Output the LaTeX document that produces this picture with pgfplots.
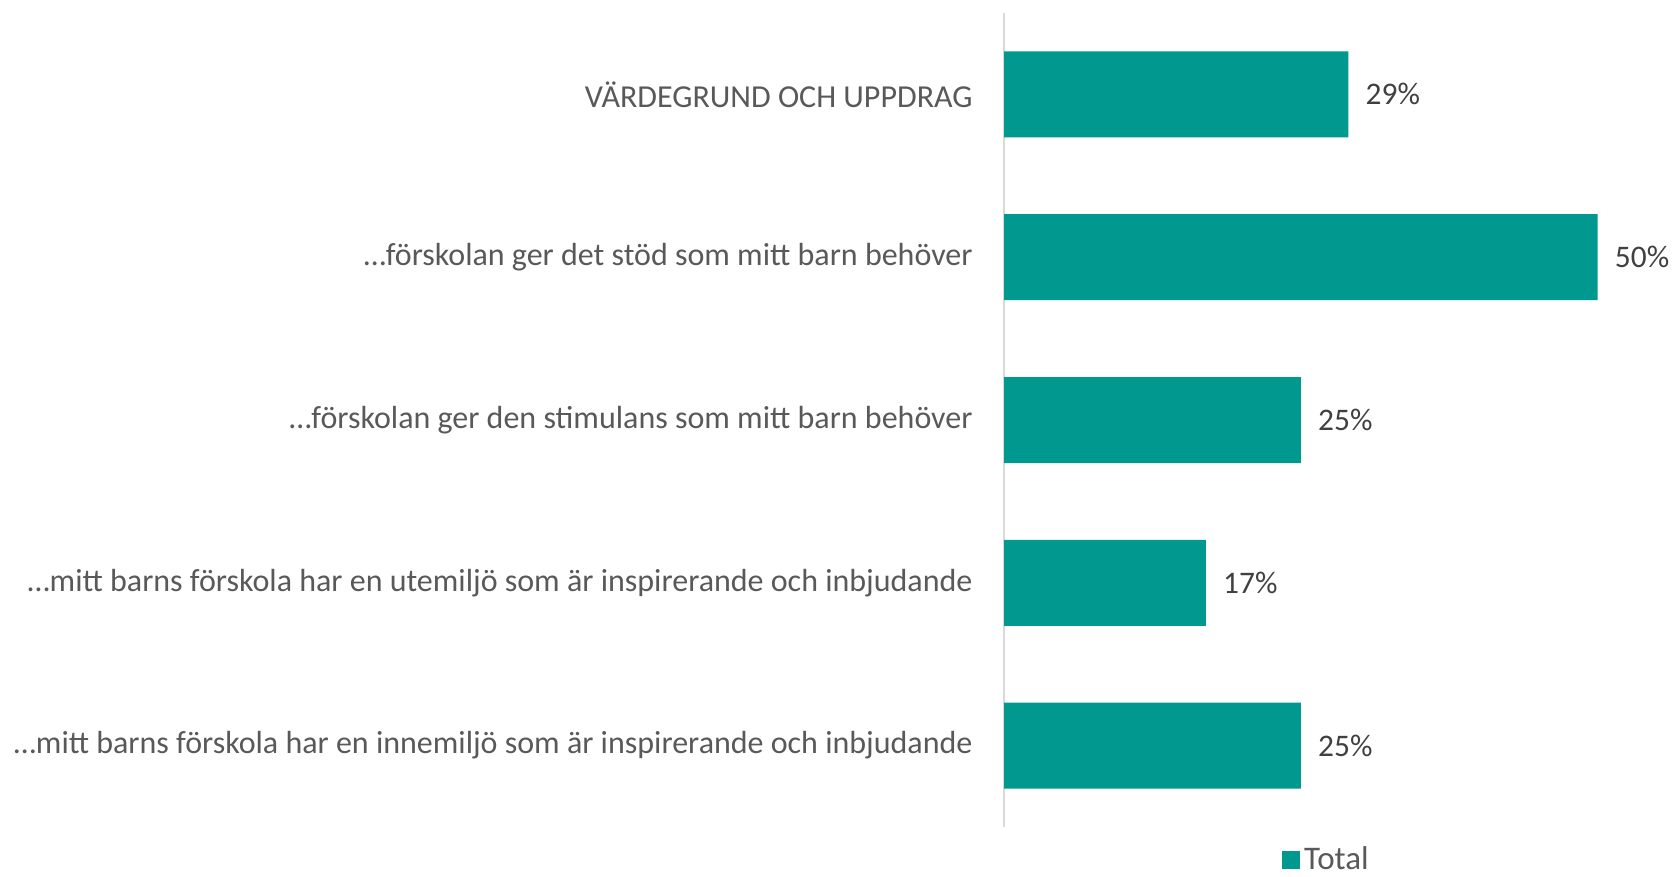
\documentclass[border=0pt]{standalone}
\usepackage{pgfplots}
\pgfplotsset{compat=1.18}
\usepackage{fontspec}
\setmainfont{Carlito}
\definecolor{barc}{RGB}{0,152,143}
\definecolor{lab}{RGB}{89,89,89}
\definecolor{dlab}{RGB}{64,64,64}
\definecolor{axc}{RGB}{217,217,217}
\begin{document}
\begin{tikzpicture}
\useasboundingbox (0,0) rectangle (837.5pt,438.5pt);
\begin{axis}[
 at={(502pt,25pt)}, anchor=south west,
 scale only axis, width=314.6pt, height=407pt,
 xbar, bar width=43pt,
 xmin=0, xmax=53, ymin=-0.5, ymax=4.5, y dir=reverse,
 axis x line=none, axis y line*=left,
 axis line style={draw=axc, line width=1pt, -},
 ytick={0,1,2,3,4},
 yticklabels={VÄRDEGRUND OCH UPPDRAG,
  …förskolan ger det stöd som mitt barn behöver,
  …förskolan ger den stimulans som mitt barn behöver,
  …mitt barns förskola har en utemiljö som är inspirerande och inbjudande,
  …mitt barns förskola har en innemiljö som är inspirerande och inbjudande},
 major tick length=0pt,
 yticklabel style={font=\fontsize{16}{19}\selectfont, text=lab, anchor=east, inner sep=0pt, xshift=-15.5pt},
 nodes near coords={\pgfmathprintnumber{\pgfplotspointmeta}\%},
 nodes near coords style={font=\fontsize{15.7}{18}\selectfont, text=dlab, anchor=west, inner sep=0pt, xshift=8.5pt},
 /pgf/number format/assume math mode=true,
 legend style={at={(0.514,-0.040)}, anchor=center, draw=none, fill=none, inner sep=1pt, font=\fontsize{16.5}{19}\selectfont, text=lab},
 legend image code/.code={\fill[barc] (0pt,-4.5pt) rectangle (9pt,4.5pt);},
 clip=false,
]
\addplot[fill=barc, draw=none] coordinates {(29,0) (50,1) (25,2) (17,3) (25,4)};
\addlegendentry{Total}
\end{axis}
\end{tikzpicture}
\end{document}
